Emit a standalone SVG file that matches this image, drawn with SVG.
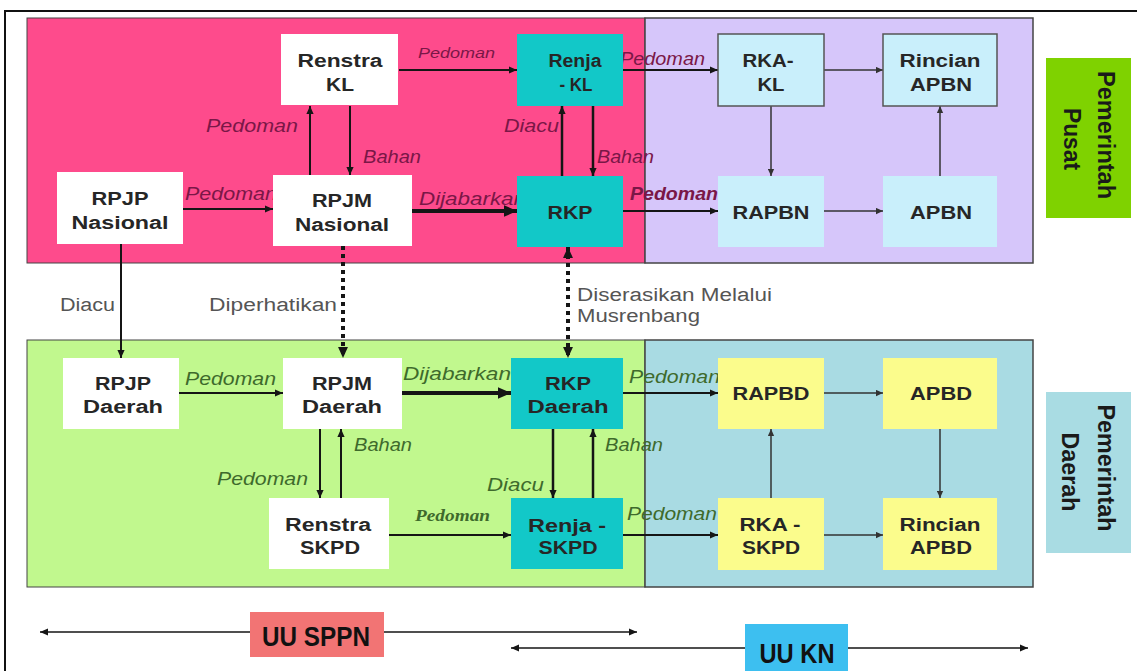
<svg xmlns="http://www.w3.org/2000/svg" width="1137" height="671" viewBox="0 0 1137 671">
<defs>
<marker id="ah" viewBox="0 0 10 10" refX="10" refY="5" markerWidth="8" markerHeight="8" markerUnits="userSpaceOnUse" orient="auto-start-reverse"><path d="M0,0.5 L10,5 L0,9.5 z" fill="#151515"/></marker>
<marker id="ahb" viewBox="0 0 10 10" refX="10" refY="5" markerWidth="13" markerHeight="13" markerUnits="userSpaceOnUse" orient="auto-start-reverse"><path d="M0,0.5 L10,5 L0,9.5 z" fill="#151515"/></marker>
<marker id="ahd" viewBox="0 0 10 10" refX="10" refY="5" markerWidth="11" markerHeight="11" markerUnits="userSpaceOnUse" orient="auto-start-reverse"><path d="M0,0.5 L10,5 L0,9.5 z" fill="#151515"/></marker>
<marker id="ahs" viewBox="0 0 10 10" refX="10" refY="5" markerWidth="7" markerHeight="7" markerUnits="userSpaceOnUse" orient="auto-start-reverse"><path d="M0,0.5 L10,5 L0,9.5 z" fill="#333"/></marker>
</defs>
<style>
.nt{font-family:"Liberation Sans",Arial,sans-serif;font-weight:bold;font-size:18px;fill:#262626;text-anchor:middle}
.lb{font-family:"Liberation Sans",Arial,sans-serif;font-style:italic;font-size:18px}
.lu{fill:#7a1747}
.lg{fill:#3e6a2c}
.gr{font-family:"Liberation Sans",Arial,sans-serif;font-size:18px;fill:#555}
.c{stroke:#151515;stroke-width:2;fill:none;marker-end:url(#ah)}
.ct{stroke:#151515;stroke-width:4;fill:none;marker-end:url(#ahb)}
.cd{stroke:#151515;stroke-width:4;stroke-dasharray:4 4;fill:none;marker-end:url(#ahd)}
.cr{stroke:#333;stroke-width:1.5;fill:none;marker-end:url(#ahs)}
.white{fill:#ffffff}
.teal{fill:#12c8c8}
.lblue{fill:#c9effb}
.yel{fill:#fbfc8c}
.big{font-family:"Liberation Sans",Arial,sans-serif;font-weight:bold;font-size:27px;fill:#111;text-anchor:middle}
.side{font-family:"Liberation Sans",Arial,sans-serif;font-weight:bold;font-size:24px;fill:#1a1a1a;text-anchor:middle}
</style>
<rect width="1137" height="671" fill="#ffffff"/>
<path d="M5,671 V11 H1137" stroke="#111" stroke-width="2" fill="none"/>

<g id="regions">
<rect x="27" y="18" width="618" height="245" fill="#fe4b8c" stroke="#444" stroke-width="1"/>
<rect x="645" y="18" width="388" height="245" fill="#d6c6fa" stroke="#444" stroke-width="1.5"/>
<rect x="27" y="340" width="618" height="247" fill="#c1f88e" stroke="#444" stroke-width="1"/>
<rect x="645" y="340" width="388" height="247" fill="#a9dbe3" stroke="#444" stroke-width="1.5"/>
</g>

<g id="pemerintah-pusat">
<rect x="1046" y="58" width="85" height="160" fill="#7fd200"/>
<g transform="translate(1088,138) rotate(90)">
<text class="side" x="-3" y="-10" textLength="128" lengthAdjust="spacingAndGlyphs">Pemerintah</text>
<text class="side" x="1" y="24" textLength="62" lengthAdjust="spacingAndGlyphs">Pusat</text>
</g>
</g>
<g id="pemerintah-daerah">
<rect x="1046" y="392" width="85" height="161" fill="#a9dce3"/>
<g transform="translate(1088,472) rotate(90)">
<text class="side" x="-4" y="-10" textLength="127" lengthAdjust="spacingAndGlyphs">Pemerintah</text>
<text class="side" x="0" y="26" textLength="79" lengthAdjust="spacingAndGlyphs">Daerah</text>
</g>
</g>

<g id="connectors">
<path class="c" d="M399,70 H517"/>
<path class="c" d="M310,175 V106"/>
<path class="c" d="M350,106 V175"/>
<path class="c" d="M183,209 H273"/>
<path class="ct" d="M412,211 H517"/>
<path class="c" d="M562,176 V106" style="stroke-width:2.5"/>
<path class="c" d="M593,106 V176" style="stroke-width:2.5"/>
<path class="c" d="M623,70 H718"/>
<path class="c" d="M623,211 H718"/>
<path class="cr" d="M824,70 H883"/>
<path class="cr" d="M771,106 V176"/>
<path class="cr" d="M824,211 H883"/>
<path class="cr" d="M940,176 V106"/>
<path class="c" d="M121,244 V358"/>
<path class="cd" d="M343,246 V358"/>
<path class="cd" d="M568,247 V358" style="marker-start:url(#ahd)"/>
<path class="c" d="M179,393 H283"/>
<path class="ct" d="M402,393 H511"/>
<path class="c" d="M623,393 H718"/>
<path class="cr" d="M824,393 H883"/>
<path class="c" d="M320,429 V498"/>
<path class="c" d="M341,498 V429"/>
<path class="c" d="M389,535 H511"/>
<path class="c" d="M553,429 V498" style="stroke-width:2.5"/>
<path class="c" d="M593,498 V429" style="stroke-width:2.5"/>
<path class="c" d="M623,535 H718"/>
<path class="cr" d="M771,498 V429"/>
<path class="cr" d="M940,429 V498"/>
<path class="cr" d="M824,535 H883"/>
<path class="c" d="M40,632 H637" style="stroke-width:1.5;marker-start:url(#ah)"/>
<path class="c" d="M511,648 H1028" style="stroke-width:1.5;marker-start:url(#ah)"/>
</g>

<g id="connector-labels">
<text class="lb lu" x="418" y="58" style="font-size:14px" textLength="77" lengthAdjust="spacingAndGlyphs">Pedoman</text>
<text class="lb lu" x="206" y="132" textLength="92" lengthAdjust="spacingAndGlyphs">Pedoman</text>
<text class="lb lu" x="363" y="163" textLength="58" lengthAdjust="spacingAndGlyphs">Bahan</text>
<text class="lb lu" x="185" y="200" textLength="92" lengthAdjust="spacingAndGlyphs">Pedoman</text>
<text class="lb lu" x="419" y="205" textLength="107" lengthAdjust="spacingAndGlyphs">Dijabarkan</text>
<text class="lb lu" x="504" y="132" textLength="55" lengthAdjust="spacingAndGlyphs">Diacu</text>
<text class="lb lu" x="597" y="163" textLength="57" lengthAdjust="spacingAndGlyphs">Bahan</text>
<text class="lb lu" x="620" y="65" textLength="85" lengthAdjust="spacingAndGlyphs">Pedoman</text>
<text class="lb lu" x="630" y="200" style="font-weight:bold" textLength="88" lengthAdjust="spacingAndGlyphs">Pedoman</text>
<text class="gr" x="60" y="311" textLength="55" lengthAdjust="spacingAndGlyphs">Diacu</text>
<text class="gr" x="209" y="311" textLength="128" lengthAdjust="spacingAndGlyphs">Diperhatikan</text>
<text class="gr" x="577" y="301" textLength="195" lengthAdjust="spacingAndGlyphs">Diserasikan Melalui</text>
<text class="gr" x="577" y="322" textLength="123" lengthAdjust="spacingAndGlyphs">Musrenbang</text>
<text class="lb lg" x="185" y="385" textLength="91" lengthAdjust="spacingAndGlyphs">Pedoman</text>
<text class="lb lg" x="403" y="380" textLength="108" lengthAdjust="spacingAndGlyphs">Dijabarkan</text>
<text class="lb lg" x="629" y="383" textLength="91" lengthAdjust="spacingAndGlyphs">Pedoman</text>
<text class="lb lg" x="354" y="451" textLength="58" lengthAdjust="spacingAndGlyphs">Bahan</text>
<text class="lb lg" x="217" y="485" textLength="91" lengthAdjust="spacingAndGlyphs">Pedoman</text>
<text class="lb lg" x="605" y="451" textLength="58" lengthAdjust="spacingAndGlyphs">Bahan</text>
<text class="lb lg" x="487" y="491" textLength="57" lengthAdjust="spacingAndGlyphs">Diacu</text>
<text class="lb lg" x="415" y="521" style="font-family:'Liberation Serif','Times New Roman',serif;font-weight:bold;font-size:16px" textLength="75" lengthAdjust="spacingAndGlyphs">Pedoman</text>
<text class="lb lg" x="627" y="520" textLength="90" lengthAdjust="spacingAndGlyphs">Pedoman</text>
</g>

<g id="renstra-kl"><rect class="white" x="281" y="34" width="117" height="71"/>
<text class="nt" x="340" y="67" textLength="85" lengthAdjust="spacingAndGlyphs">Renstra</text>
<text class="nt" x="340" y="91" textLength="28" lengthAdjust="spacingAndGlyphs">KL</text></g>
<g id="renja-kl"><rect class="teal" x="517" y="34" width="106" height="72"/>
<text class="nt" x="575" y="67" textLength="53" lengthAdjust="spacingAndGlyphs">Renja</text>
<text class="nt" x="576" y="91" textLength="33" lengthAdjust="spacingAndGlyphs">- KL</text></g>
<g id="rpjp-nasional"><rect class="white" x="57" y="172" width="126" height="72"/>
<text class="nt" x="120" y="205" textLength="57" lengthAdjust="spacingAndGlyphs">RPJP</text>
<text class="nt" x="120" y="229" textLength="97" lengthAdjust="spacingAndGlyphs">Nasional</text></g>
<g id="rpjm-nasional"><rect class="white" x="273" y="175" width="139" height="71"/>
<text class="nt" x="342" y="207" textLength="60" lengthAdjust="spacingAndGlyphs">RPJM</text>
<text class="nt" x="342" y="231" textLength="94" lengthAdjust="spacingAndGlyphs">Nasional</text></g>
<g id="rkp"><rect class="teal" x="517" y="176" width="106" height="71"/>
<text class="nt" x="570" y="219" textLength="45" lengthAdjust="spacingAndGlyphs">RKP</text></g>
<g id="rka-kl"><rect class="lblue" x="718" y="34" width="106" height="72" stroke="#555" stroke-width="1.5"/>
<text class="nt" x="768" y="67" textLength="51" lengthAdjust="spacingAndGlyphs">RKA-</text>
<text class="nt" x="771" y="91" textLength="27" lengthAdjust="spacingAndGlyphs">KL</text></g>
<g id="rincian-apbn"><rect class="lblue" x="883" y="34" width="114" height="72" stroke="#555" stroke-width="1.5"/>
<text class="nt" x="940" y="67" textLength="81" lengthAdjust="spacingAndGlyphs">Rincian</text>
<text class="nt" x="941" y="91" textLength="62" lengthAdjust="spacingAndGlyphs">APBN</text></g>
<g id="rapbn"><rect class="lblue" x="718" y="176" width="106" height="71"/>
<text class="nt" x="771" y="219" textLength="77" lengthAdjust="spacingAndGlyphs">RAPBN</text></g>
<g id="apbn"><rect class="lblue" x="883" y="176" width="114" height="71"/>
<text class="nt" x="941" y="219" textLength="62" lengthAdjust="spacingAndGlyphs">APBN</text></g>

<g id="rpjp-daerah"><rect class="white" x="63" y="358" width="116" height="71"/>
<text class="nt" x="123" y="390" textLength="56" lengthAdjust="spacingAndGlyphs">RPJP</text>
<text class="nt" x="123" y="413" textLength="80" lengthAdjust="spacingAndGlyphs">Daerah</text></g>
<g id="rpjm-daerah"><rect class="white" x="283" y="358" width="119" height="71"/>
<text class="nt" x="342" y="390" textLength="60" lengthAdjust="spacingAndGlyphs">RPJM</text>
<text class="nt" x="342" y="413" textLength="80" lengthAdjust="spacingAndGlyphs">Daerah</text></g>
<g id="rkp-daerah"><rect class="teal" x="511" y="358" width="112" height="71"/>
<text class="nt" x="568" y="390" textLength="46" lengthAdjust="spacingAndGlyphs">RKP</text>
<text class="nt" x="568" y="413" textLength="81" lengthAdjust="spacingAndGlyphs">Daerah</text></g>
<g id="renstra-skpd"><rect class="white" x="269" y="498" width="120" height="71"/>
<text class="nt" x="328" y="531" textLength="86" lengthAdjust="spacingAndGlyphs">Renstra</text>
<text class="nt" x="330" y="554" textLength="60" lengthAdjust="spacingAndGlyphs">SKPD</text></g>
<g id="renja-skpd"><rect class="teal" x="511" y="498" width="112" height="71"/>
<text class="nt" x="567" y="532" textLength="78" lengthAdjust="spacingAndGlyphs">Renja -</text>
<text class="nt" x="568" y="554" textLength="59" lengthAdjust="spacingAndGlyphs">SKPD</text></g>
<g id="rapbd"><rect class="yel" x="718" y="358" width="106" height="71"/>
<text class="nt" x="771" y="400" textLength="77" lengthAdjust="spacingAndGlyphs">RAPBD</text></g>
<g id="apbd"><rect class="yel" x="883" y="358" width="114" height="71"/>
<text class="nt" x="941" y="400" textLength="62" lengthAdjust="spacingAndGlyphs">APBD</text></g>
<g id="rka-skpd"><rect class="yel" x="718" y="498" width="106" height="72"/>
<text class="nt" x="770" y="531" textLength="61" lengthAdjust="spacingAndGlyphs">RKA -</text>
<text class="nt" x="771" y="554" textLength="58" lengthAdjust="spacingAndGlyphs">SKPD</text></g>
<g id="rincian-apbd"><rect class="yel" x="883" y="498" width="114" height="72"/>
<text class="nt" x="940" y="531" textLength="81" lengthAdjust="spacingAndGlyphs">Rincian</text>
<text class="nt" x="941" y="554" textLength="62" lengthAdjust="spacingAndGlyphs">APBD</text></g>

<g id="uu-sppn"><rect x="250" y="612" width="134" height="45" fill="#f27474"/>
<text class="big" x="316" y="646" textLength="108" lengthAdjust="spacingAndGlyphs">UU SPPN</text></g>
<g id="uu-kn"><rect x="745" y="624" width="103" height="47" fill="#3dbff0"/>
<text class="big" x="797" y="663" textLength="75" lengthAdjust="spacingAndGlyphs">UU KN</text></g>
</svg>
